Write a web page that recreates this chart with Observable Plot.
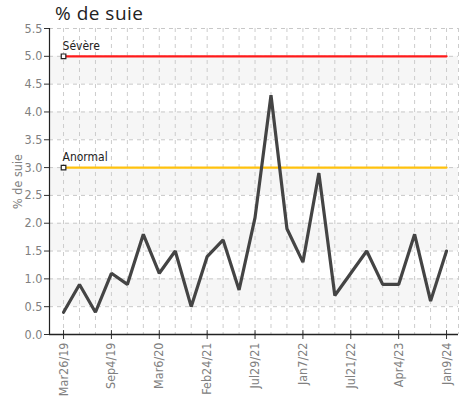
<!DOCTYPE html>
<html><head><meta charset="utf-8">
<script src="https://cdn.jsdelivr.net/npm/d3@7"></script>
<script src="https://cdn.jsdelivr.net/npm/@observablehq/plot@0.6"></script>
<style>
body{margin:0;background:#fff;overflow:hidden;}
#wrap{position:relative;width:471px;height:410px;}
#title{position:absolute;left:55px;top:0px;font:19px "Open Sans","DejaVu Sans",sans-serif;line-height:normal;color:#222;letter-spacing:0.5px;}
</style></head>
<body><div id="wrap"><div id="chart"></div><div id="title">% de suie</div></div>
<script>
const suie = [0.4,0.9,0.4,1.1,0.9,1.8,1.1,1.5,0.5,1.4,1.7,0.8,2.1,4.3,1.9,1.3,2.9,0.7,1.1,1.5,0.9,0.9,1.8,0.6,1.5];
const dateLabels = ["Mar26/19","Sep4/19","Mar6/20","Feb24/21","Jul29/21","Jan7/22","Jul21/22","Apr4/23","Jan9/24"];
const dateIndex = [0,3,6,9,12,15,18,21,24];
const yTicks = [0,0.5,1,1.5,2,2.5,3,3.5,4,4.5,5,5.5];
const bandLo = [0.5,1.5,2.5,3.5,4.5];
const bandHi = [1,2,3,4,5];
const thrNames = ["Sévère","Anormal"];
const thrValues = [5,3];
const thrColors = ["#ff1a1a","#ffc20e"];

const pts = suie.map((v,i)=>({i, v}));
const bands = bandLo.map((lo,k)=>({lo, hi: bandHi[k]}));
const thr = [];
thrNames.forEach((n,k)=>{ for (let i=0;i<suie.length;i++) thr.push({name:n, i, v:thrValues[k], c:thrColors[k]}); });
const thrStart = thrNames.map((n,k)=>({name:n, i:0, v:thrValues[k]}));
const font = '"Liberation Sans Narrow","DejaVu Sans Condensed","Roboto",sans-serif';
const xmin = -0.88, xmax = 24.75;

const chart = Plot.plot({
  width: 471, height: 410,
  marginLeft: 49, marginRight: 13, marginTop: 28, marginBottom: 76,
  style: {fontFamily: font, fontSize: "12px", color: "#808080", background: "transparent"},
  x: {type: "linear", domain: [xmin, xmax]},
  y: {domain: [0, 5.5]},
  marks: [
    Plot.rect(bands, {y1: "lo", y2: "hi", fill: "#f6f6f6"}),
    Plot.gridY({ticks: yTicks, stroke: "#c8c8c8", strokeOpacity: 1, strokeDasharray: "4,4"}),
    Plot.gridX({ticks: d3.range(0, 25), stroke: "#cccccc", strokeOpacity: 1, strokeDasharray: "4,4"}),
    Plot.gridX({ticks: [xmax], stroke: "#cccccc", strokeOpacity: 1, strokeDasharray: "4,4"}),
    Plot.axisY({ticks: yTicks, tickFormat: d => d.toFixed(1), tickSize: 5, tickPadding: 2, fontSize: 12.5, color: "#808080", stroke: "#333",
      label: "% de suie", labelAnchor: "center", labelArrow: "none", labelOffset: 36}),
    Plot.axisX({ticks: dateIndex, tickFormat: i => dateLabels[dateIndex.indexOf(i)], tickRotate: -90, tickSize: 5, tickPadding: 3, fontSize: 12.5, stroke: "#333", label: null}),
    Plot.ruleX(dateIndex, {x: d => d, y1: 0, y2: 0.07, stroke: "#333"}),
    Plot.ruleX([xmin], {stroke: "#222", strokeWidth: 1.2}),
    Plot.ruleY([0], {stroke: "#222", strokeWidth: 1.5}),
    Plot.line(thr, {x: "i", y: "v", z: "name", stroke: "c", strokeWidth: 2.3, strokeDasharray: "3,1"}),
    Plot.dot(thrStart, {x: "i", y: "v", symbol: "square", r: 2.6, fill: "white", stroke: "#222", strokeWidth: 1.2}),
    Plot.text(thrStart, {x: "i", y: "v", text: "name", dx: -1, dy: -10, textAnchor: "start", fill: "#222", fontSize: 12, fontFamily: font}),
    Plot.line(pts, {x: "i", y: "v", stroke: "#444", strokeWidth: 3.2, strokeLinejoin: "miter"})
  ]
});
document.getElementById("chart").appendChild(chart);
</script>
</body></html>
